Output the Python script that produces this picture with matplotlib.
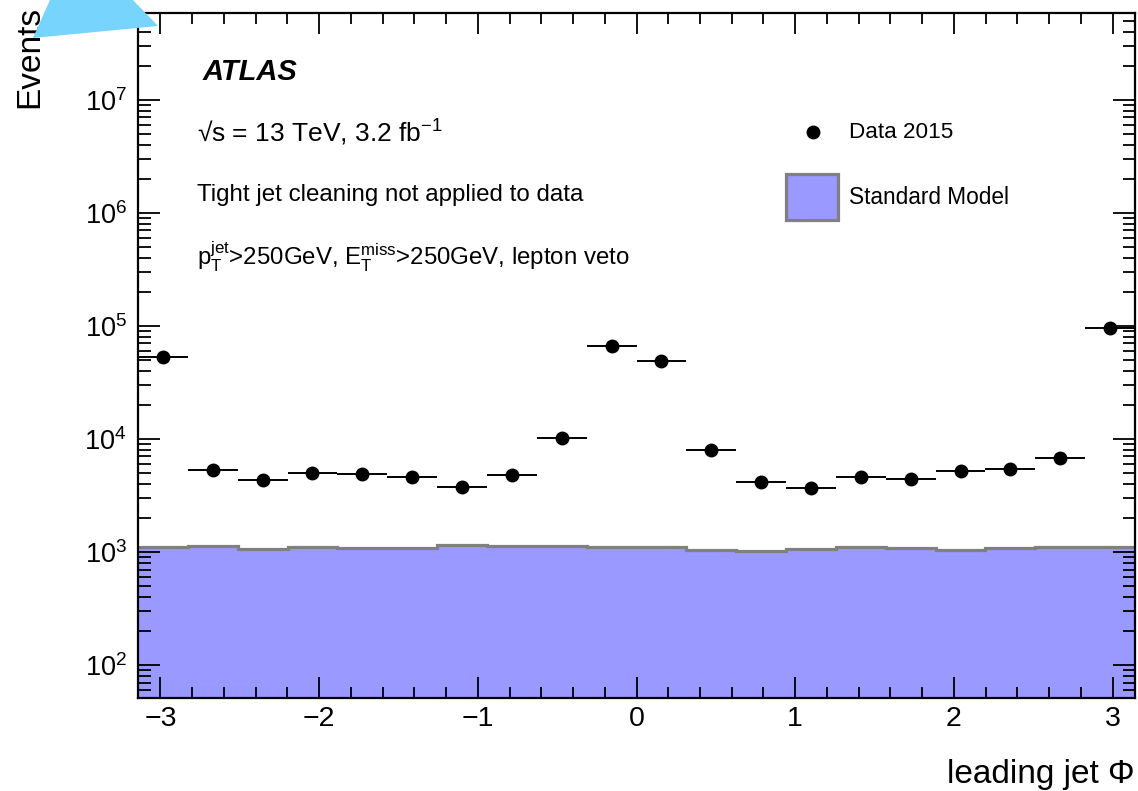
import numpy as np
import matplotlib
matplotlib.use("Agg")
import matplotlib.pyplot as plt
from matplotlib.patches import Polygon, Rectangle
from matplotlib.lines import Line2D
from matplotlib.ticker import MultipleLocator, LogFormatterMathtext, FixedLocator, NullFormatter

plt.rcParams['font.family'] = ['Liberation Sans', 'DejaVu Sans']
plt.rcParams['mathtext.fontset'] = 'custom'
plt.rcParams['mathtext.rm'] = 'Liberation Sans'
plt.rcParams['mathtext.it'] = 'Liberation Sans:italic'
plt.rcParams['mathtext.bf'] = 'Liberation Sans:bold'

# ---- data ----
n_bins = 20
phi_min, phi_max = -np.pi, np.pi
data_2015 = [53200, 5320, 4350, 5040, 4880, 4650, 3770, 4810, 10200, 66300,
             48500, 7950, 4150, 3720, 4650, 4460, 5250, 5390, 6800, 94900]
standard_model = [1098, 1120, 1069, 1098, 1076, 1076, 1153, 1120, 1130, 1098,
                  1114, 1048, 1012, 1054, 1107, 1076, 1041, 1076, 1107, 1114]
x_ticks = [-3, -2, -1, 0, 1, 2, 3]
x_ticklabels = ["\u22123", "\u22122", "\u22121", "0", "1", "2", "3"]
y_decades = [2, 3, 4, 5, 6, 7]

W, H = 1138, 791
fig = plt.figure(figsize=(W / 100, H / 100), dpi=100)

def fx(px):
    return px / W

def fy(py):
    return 1 - py / H

ax_l, ax_r, ax_t, ax_b = 138, 1135, 13, 698
ax = fig.add_axes([fx(ax_l), fy(ax_b), fx(ax_r) - fx(ax_l), fy(ax_t) - fy(ax_b)])

edges = np.linspace(phi_min, phi_max, n_bins + 1)
centers = 0.5 * (edges[:-1] + edges[1:])
halfw = 0.5 * (edges[1] - edges[0])

sm_fill = '#9999ff'
sm_edge = '#808080'
ax.stairs(standard_model, edges, fill=True, color=sm_fill, baseline=1, zorder=1)
ax.stairs(standard_model, edges, baseline=None, color=sm_edge, linewidth=2.3, zorder=2)

ax.errorbar(centers, data_2015, xerr=halfw, fmt='o', color='black', ms=9,
            elinewidth=1.4, capsize=0, zorder=3)

ax.set_yscale('log')
ax.set_xlim(phi_min, phi_max)
ylo, yhi = 10 ** (2 - 33 / 113.3), 10 ** (7 + 87 / 113.3)
ax.set_ylim(ylo, yhi)

ax.xaxis.set_major_locator(FixedLocator(x_ticks))
ax.set_xticklabels(x_ticklabels)
ax.xaxis.set_minor_locator(MultipleLocator(0.2))
major_y = [10.0 ** d for d in y_decades]
minor_y = [m * 10.0 ** d for d in range(1, 8) for m in range(2, 10)
           if ylo <= m * 10.0 ** d <= yhi]
ax.yaxis.set_major_locator(FixedLocator(major_y))
ax.yaxis.set_minor_locator(FixedLocator(minor_y))
ax.yaxis.set_major_formatter(LogFormatterMathtext())
ax.yaxis.set_minor_formatter(NullFormatter())

ax.tick_params(which='both', direction='in', top=True, right=True, width=1.3, colors='black')
ax.tick_params(which='major', axis='x', length=15, labelsize=20.5, pad=6)
ax.tick_params(which='minor', axis='x', length=8)
ax.tick_params(which='major', axis='y', length=16, labelsize=19.5, pad=8)
ax.tick_params(which='minor', axis='y', length=9)
for s in ax.spines.values():
    s.set_linewidth(1.6)

# axis labels
fig.text(fx(1135), fy(775), "leading jet \u03a6", ha='right', va='center', fontsize=24)
fig.text(fx(30), fy(57), "Events", ha='center', va='center', rotation=90, fontsize=24)

# annotations
fig.text(fx(203), fy(72), "ATLAS", ha='left', va='center', fontsize=21,
         fontweight='bold', fontstyle='italic')
fig.text(fx(197), fy(133), "\u221as = 13 TeV, 3.2 fb$^{\\mathrm{-1}}$",
         ha='left', va='center', fontsize=19)
fig.text(fx(197), fy(195), "Tight jet cleaning not applied to data",
         ha='left', va='center', fontsize=17.4)
fig.text(fx(197), fy(257),
         r"$\mathrm{p}_{\mathrm{T}}^{\mathrm{jet}}$>250GeV, $\mathrm{E}_{\mathrm{T}}^{\mathrm{miss}}$>250GeV, lepton veto",
         ha='left', va='center', fontsize=17.3)

# legend (manual)
fig.add_artist(Line2D([fx(813)], [fy(132)], marker='o', color='black', ms=9,
                      transform=fig.transFigure))
fig.text(fx(849), fy(132), "Data 2015", ha='left', va='center', fontsize=16.2)
fig.add_artist(Rectangle((fx(786), fy(220)), fx(838) - fx(786), fy(174) - fy(220),
                         facecolor=sm_fill, edgecolor=sm_edge, linewidth=2.3,
                         transform=fig.transFigure))
fig.text(fx(849), fy(197), "Standard Model", ha='left', va='center', fontsize=16.3)

# cyan overlay shape at top-left
tri = [(50, 0), (133, 0), (158, 26), (33, 38)]
fig.add_artist(Polygon([(fx(x), fy(y)) for x, y in tri], closed=True,
                       facecolor='#77d4fc', edgecolor='none', transform=fig.transFigure,
                       zorder=10))

fig.savefig("out.png", dpi=100)
